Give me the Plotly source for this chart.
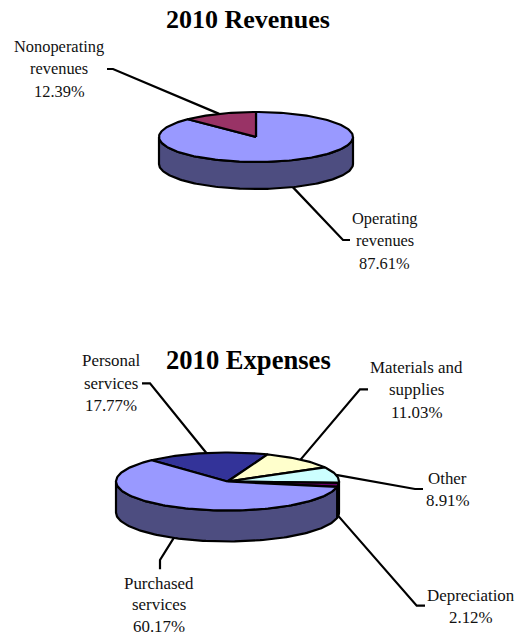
import math
import plotly.graph_objects as go

# Shares of each budget, in percent, clockwise from each pie's start angle
revenue_labels = [["Operating", "revenues"], ["Nonoperating", "revenues"]]
revenue_values = [87.61, 12.39]
revenue_colors = ["#9999FF", "#993366"]
revenue_sides = ["#4D4D80", "#4D1A33"]

expense_labels = [
    ["Personal", "services"],
    ["Materials and", "supplies"],
    ["Other"],
    ["Depreciation"],
    ["Purchased", "services"],
]
expense_values = [17.77, 11.03, 8.91, 2.12, 60.17]
expense_colors = ["#333399", "#FFFFCC", "#CCFFFF", "#660066", "#9999FF"]
expense_sides = ["#1A1A4D", "#808066", "#668080", "#330033", "#4D4D80"]

SERIF = "Liberation Serif"
TEXT = "#111111"
LINE_GAP = 22.5
EDGE = 2.2


def point(pie, t_deg, drop=0.0):
    t = math.radians(t_deg)
    return pie["cx"] + pie["rx"] * math.sin(t), pie["cy"] - pie["ry"] * math.cos(t) + drop


def arc(pie, a, b, drop=0.0):
    n = max(2, int(abs(b - a) / 1.5) + 2)
    pts = [point(pie, a + (b - a) * i / (n - 1), drop) for i in range(n)]
    return [p[0] for p in pts], [p[1] for p in pts]


def spans(values, start):
    out, a = [], start
    for v in values:
        b = a + v * 3.6
        out.append((a, b))
        a = b
    return out


def front_part(a, b):
    # The wall is visible only where the rim runs along the near half of the ellipse
    for shift in (-360, 0, 360):
        lo, hi = max(a + shift, 90), min(b + shift, 270)
        if lo < hi:
            return lo, hi
    return None


def polygon(fig, xs, ys, color):
    fig.add_trace(go.Scatter(
        x=xs, y=ys, mode="lines", fill="toself", fillcolor=color,
        line=dict(color="black", width=EDGE), hoverinfo="skip", showlegend=False,
    ))


def draw_pie(fig, pie, values, colors, sides, labels, placement):
    parts = spans(values, pie["start"])

    # Leader lines run underneath the pie, from the middle of each slice's rim
    for (a, b), place in zip(parts, placement):
        mid = (a + b) / 2
        front = math.cos(math.radians(mid)) < -0.05
        x0, y0 = point(pie, mid, pie["depth"] if front else 0)
        xs = [x0] + [p[0] for p in place["elbow"]]
        ys = [y0] + [p[1] for p in place["elbow"]]
        fig.add_trace(go.Scatter(
            x=xs, y=ys, mode="lines", line=dict(color="black", width=EDGE),
            hoverinfo="skip", showlegend=False,
        ))

    # Walls
    for (a, b), side in zip(parts, sides):
        seen = front_part(a, b)
        if seen:
            tx, ty = arc(pie, seen[0], seen[1])
            bx, by = arc(pie, seen[1], seen[0], pie["depth"])
            polygon(fig, tx + bx + tx[:1], ty + by + ty[:1], side)

    # Top faces
    for (a, b), color in zip(parts, colors):
        ax, ay = arc(pie, a, b)
        polygon(fig, [pie["cx"]] + ax + [pie["cx"]], [pie["cy"]] + ay + [pie["cy"]], color)

    # Labels: name lines followed by the share
    for value, words, place in zip(values, labels, placement):
        gap = place.get("gap", LINE_GAP)
        for i, line in enumerate(words + [f"{value:.2f}%"]):
            fig.add_annotation(
                x=place["x"], y=place["y"] + i * gap, text=line, showarrow=False,
                xanchor="center", yanchor="middle",
                font=dict(family=SERIF, size=pie["label_size"], color=TEXT),
            )


revenue_pie = dict(cx=256, cy=137, rx=97, ry=25, depth=27, start=0, label_size=16.4)
revenue_place = [
    dict(x=384.5, y=218, elbow=[(343, 240), (350, 240)]),
    dict(x=59, y=46, elbow=[(113, 69), (107, 69)]),
]

expense_pie = dict(cx=227.5, cy=481.5, rx=111.5, ry=29, depth=31, start=-42.9, label_size=16.9)
expense_place = [
    dict(x=110.7, y=360.7, elbow=[(150, 383.3), (142, 383.3)]),
    dict(x=416.7, y=367, elbow=[(360, 389.3), (368, 389.3)]),
    dict(x=447.7, y=478, elbow=[(415, 489), (423, 489)]),
    dict(x=470.7, y=595, elbow=[(416.7, 605.7), (425, 605.7)]),
    dict(x=159.3, y=583, gap=21.5, elbow=[(160, 560), (160, 569.3)]),
]

fig = go.Figure()
draw_pie(fig, revenue_pie, revenue_values, revenue_colors, revenue_sides, revenue_labels, revenue_place)
draw_pie(fig, expense_pie, expense_values, expense_colors, expense_sides, expense_labels, expense_place)

for title, y, size in (("2010 Revenues", 19.5, 26), ("2010 Expenses", 359.5, 26.6)):
    fig.add_annotation(
        x=248, y=y, text=f"<b>{title}</b>", showarrow=False,
        xanchor="center", yanchor="middle",
        font=dict(family=SERIF, size=size, color="black"),
    )

fig.update_layout(
    width=518, height=636, margin=dict(l=0, r=0, t=0, b=0),
    paper_bgcolor="white", plot_bgcolor="white", showlegend=False,
    xaxis=dict(range=[0, 518], visible=False, fixedrange=True),
    yaxis=dict(range=[636, 0], visible=False, fixedrange=True),
)
fig.write_html("out.html", config=dict(displayModeBar=False))
